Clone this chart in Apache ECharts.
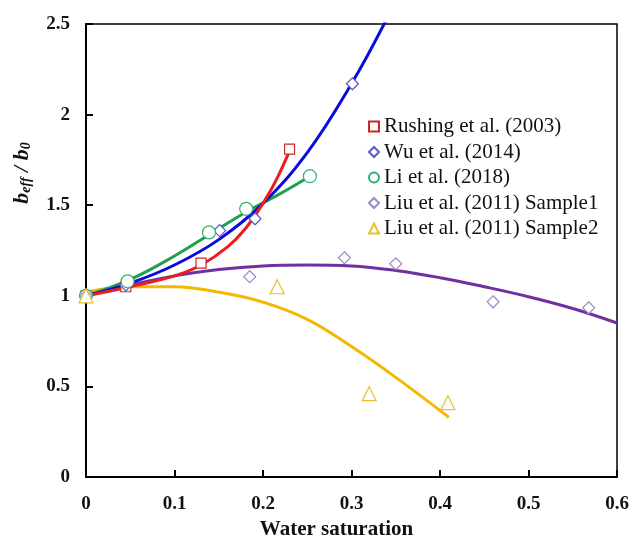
<!DOCTYPE html>
<html>
<head>
<meta charset="utf-8">
<script src="https://cdn.jsdelivr.net/npm/echarts@6/dist/echarts.min.js"></script>
<style>
  html, body { margin: 0; padding: 0; background: #fff; }
  #chart { width: 633px; height: 539px; }
</style>
</head>
<body>
<div id="chart"></div>
<script>
// 点数据 (测量值)
var rushingPts = [[0, 1.0], [0.045, 1.05], [0.13, 1.18], [0.23, 1.81]];
var wuPts = [[0, 1.0], [0.045, 1.06], [0.151, 1.36], [0.191, 1.425], [0.301, 2.17]];
var liPts = [[0, 1.0], [0.047, 1.08], [0.139, 1.35], [0.181, 1.48], [0.253, 1.66]];
var liu1Pts = [[0, 1.0], [0.185, 1.105], [0.292, 1.21], [0.35, 1.177], [0.46, 0.967], [0.568, 0.934]];
var liu2Pts = [[0, 1.0], [0.216, 1.05], [0.32, 0.46], [0.409, 0.41]];

// 拟合曲线
var rushingFit = [[0, 1.0], [0.05, 1.05], [0.1, 1.11], [0.13, 1.17], [0.16, 1.27], [0.18, 1.37], [0.2, 1.51], [0.215, 1.64], [0.23, 1.80]];
var wuFit = [[0, 1.0], [0.05, 1.07], [0.1, 1.17], [0.15, 1.31], [0.2, 1.51], [0.25, 1.79], [0.3, 2.17], [0.34, 2.53]];
var liFit = [[0, 1.0], [0.05, 1.09], [0.1, 1.22], [0.14, 1.34], [0.18, 1.46], [0.22, 1.565], [0.253, 1.66]];
var liu1Fit = [[0, 1.0], [0.05, 1.06], [0.1, 1.11], [0.15, 1.145], [0.2, 1.165], [0.25, 1.17], [0.3, 1.165], [0.35, 1.14], [0.4, 1.10], [0.45, 1.05], [0.5, 0.995], [0.55, 0.93], [0.6, 0.85]];
var liu2Fit = [[0, 1.02], [0.05, 1.05], [0.1, 1.05], [0.15, 1.02], [0.2, 0.965], [0.25, 0.87], [0.3, 0.72], [0.35, 0.55], [0.41, 0.33]];

var names = ['Rushing et al. (2003)', 'Wu et al. (2014)', 'Li et al. (2018)', 'Liu et al. (2011) Sample1', 'Liu et al. (2011) Sample2'];
var serif = '"Liberation Serif", "Times New Roman", serif';

var chart = echarts.init(document.getElementById('chart'));

function pts(name, data, symbol, size, color) {
  return {
    name: name,
    type: 'scatter',
    data: data,
    symbol: symbol,
    symbolSize: size,
    itemStyle: { color: '#fff', borderColor: color, borderWidth: 1.2, opacity: 1 },
    z: 5
  };
}
function fit(data, color) {
  return {
    type: 'line',
    data: data,
    smooth: 0.4,
    showSymbol: false,
    clip: true,
    lineStyle: { color: color, width: 3 },
    z: 3
  };
}

var option = {
  animation: false,
  backgroundColor: '#fff',
  grid: {
    left: 86, right: 16, top: 24, bottom: 62,
    outerBoundsMode: 'none',
    show: true, borderColor: '#000', borderWidth: 1.5, backgroundColor: 'transparent'
  },
  legend: {
    orient: 'vertical',
    left: 363, top: 111,
    itemWidth: 10, itemHeight: 10, itemGap: 4.5,
    data: names,
    textStyle: { fontFamily: serif, fontSize: 21, color: '#111', lineHeight: 21 }
  },
  xAxis: {
    type: 'value', min: 0, max: 0.6, interval: 0.1,
    name: 'Water saturation', nameLocation: 'middle', nameGap: 42,
    nameTextStyle: { fontFamily: serif, fontSize: 21, fontWeight: 'bold', color: '#111', padding: [0, 30, 0, 0] },
    axisLine: { lineStyle: { color: '#000', width: 2 } },
    axisTick: { inside: true, length: 7, lineStyle: { color: '#000', width: 2 } },
    axisLabel: { fontFamily: serif, fontSize: 19, fontWeight: 'bold', color: '#111', margin: 18 },
    splitLine: { show: false }
  },
  yAxis: {
    type: 'value', min: 0, max: 2.5, interval: 0.5,
    axisLine: { lineStyle: { color: '#000', width: 2 } },
    axisTick: { inside: true, length: 7, lineStyle: { color: '#000', width: 2 } },
    axisLabel: { fontFamily: serif, fontSize: 19, fontWeight: 'bold', color: '#111', margin: 16 },
    splitLine: { show: false }
  },
  graphic: [{
    type: 'text',
    x: 22, y: 173,
    rotation: Math.PI / 2,
    style: {
      text: '{b|b}{s|eff}{b| / b}{s|0}',
      align: 'center', verticalAlign: 'middle',
      rich: {
        b: { fontFamily: serif, fontSize: 22, fontWeight: 'bold', fontStyle: 'italic', fill: '#111' },
        s: { fontFamily: serif, fontSize: 14, fontWeight: 'bold', fontStyle: 'italic', fill: '#111', verticalAlign: 'bottom', padding: [8, 0, 0, 0] }
      }
    }
  }],
  series: [
    fit(liu1Fit, '#7030a0'),
    fit(liu2Fit, '#f5b800'),
    fit(liFit, '#1fa050'),
    fit(wuFit, '#0a0adc'),
    fit(rushingFit, '#ee1c1c'),
    pts(names[0], rushingPts, 'rect', 10, '#c82828'),
    pts(names[1], wuPts, 'diamond', 12, '#5a5ac8'),
    pts(names[2], liPts, 'circle', 13, '#2fb070'),
    pts(names[3], liu1Pts, 'diamond', 12, '#9a8cc8'),
    pts(names[4], liu2Pts, 'triangle', 14, '#e8c030')
  ]
};

chart.setOption(option);
</script>
</body>
</html>
